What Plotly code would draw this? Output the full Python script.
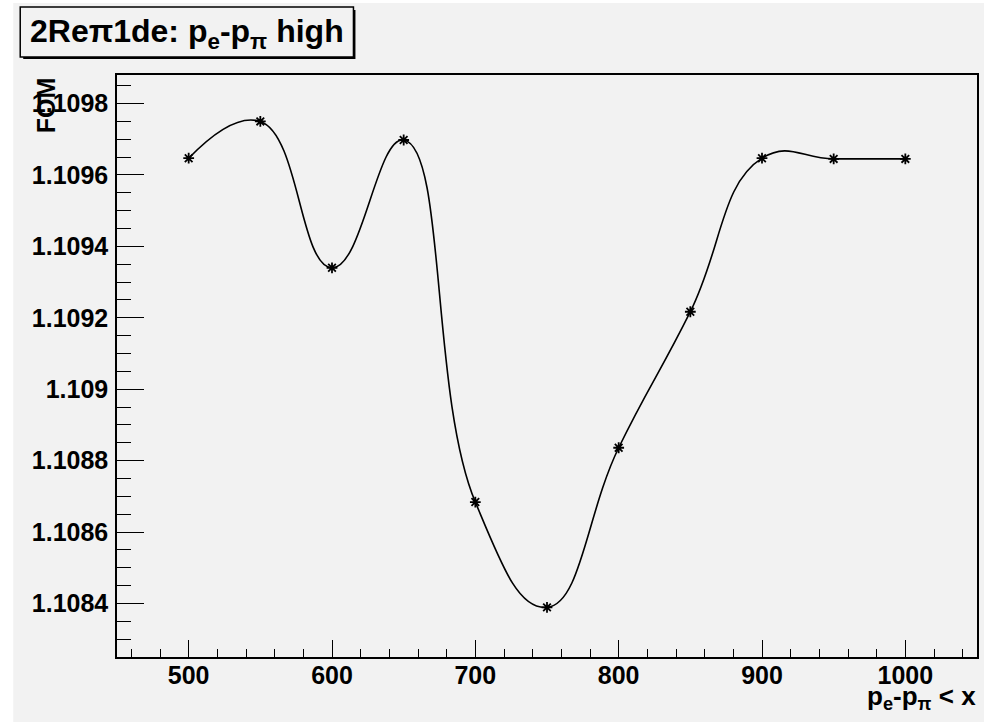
import plotly.graph_objects as go

# Figure of merit scan versus the upper cut on p_e - p_pi
cut_values = [500, 550, 600, 650, 700, 750, 800, 850, 900, 950, 1000]
fom_values = [1.109647, 1.109750, 1.109340, 1.109698, 1.108684, 1.108389,
              1.108836, 1.109217, 1.109647, 1.109645, 1.109645]

x_tick_vals = [500, 600, 700, 800, 900, 1000]
x_tick_text = ["500", "600", "700", "800", "900", "1000"]
y_tick_vals = [1.1084, 1.1086, 1.1088, 1.109, 1.1092, 1.1094, 1.1096, 1.1098]
y_tick_text = ["1.1084", "1.1086", "1.1088", "1.109", "1.1092", "1.1094", "1.1096", "1.1098"]

W, H = 984, 722
L, R, T, B = 117, 5, 75, 65
PW, PH = W - L - R, H - T - B

FONT = "Liberation Sans"
BG = "#f2f2f2"


def fx(p):
    return (p - L) / PW


def fy(p):
    return (H - B - p) / PH


fig = go.Figure()
fig.add_trace(go.Scatter(
    x=cut_values, y=fom_values,
    mode="lines+markers",
    line=dict(color="black", width=1.6, shape="spline", smoothing=1.3),
    marker=dict(symbol="asterisk-open", size=9, color="black",
                line=dict(color="black", width=1.8)),
    showlegend=False,
))

axis_common = dict(
    showline=True, linecolor="black", linewidth=1.5, mirror=True,
    showgrid=False, zeroline=False,
    ticks="inside", tickcolor="black", tickwidth=1.3,
    tickfont=dict(family=FONT, size=25, color="black", weight="bold"),
)

fig.update_xaxes(
    range=[450, 1050],
    tickmode="array", tickvals=x_tick_vals, ticktext=x_tick_text,
    ticklen=17, ticklabelstandoff=-5,
    minor=dict(ticks="inside", ticklen=8, dtick=20, tick0=0,
               tickcolor="black", tickwidth=1.3),
    **axis_common,
)
fig.update_yaxes(
    range=[1.10825, 1.10988],
    tickmode="array", tickvals=y_tick_vals, ticktext=y_tick_text,
    ticklen=27, ticklabelstandoff=2,
    minor=dict(ticks="inside", ticklen=14, dtick=0.00005, tick0=1.1,
               tickcolor="black", tickwidth=1.3),
    **axis_common,
)

shapes = [
    # canvas fill
    dict(type="rect", xref="paper", yref="paper", layer="below",
         x0=fx(13), x1=fx(W + 2), y0=fy(3), y1=fy(H + 2),
         fillcolor=BG, line=dict(width=0)),
    # title pave shadow
    dict(type="rect", xref="paper", yref="paper",
         x0=fx(23), x1=fx(356), y0=fy(59), y1=fy(10),
         fillcolor="black", line=dict(width=0)),
    # title pave
    dict(type="rect", xref="paper", yref="paper",
         x0=fx(20), x1=fx(354), y0=fy(57), y1=fy(7),
         fillcolor=BG, line=dict(color="black", width=1.5)),
]

annotations = [
    dict(text="2Re\u03c01de: p<sub>e</sub>-p<sub>\u03c0</sub> high",
         xref="paper", yref="paper", x=fx(187), y=fy(33),
         xanchor="center", yanchor="middle", showarrow=False,
         font=dict(family=FONT, size=32, color="black", weight="bold")),
    dict(text="FOM", textangle=-90,
         xref="paper", yref="paper", x=fx(46), y=fy(75),
         xanchor="center", yanchor="top", showarrow=False,
         font=dict(family=FONT, size=25, color="black", weight="bold")),
    dict(text="p<sub>e</sub>-p<sub>\u03c0</sub> < x",
         xref="paper", yref="paper", x=fx(980), y=fy(679),
         xanchor="right", yanchor="top", showarrow=False,
         font=dict(family=FONT, size=26, color="black", weight="bold")),
]

fig.update_layout(
    width=W, height=H,
    margin=dict(l=L, r=R, t=T, b=B, pad=0),
    paper_bgcolor="white", plot_bgcolor=BG,
    shapes=shapes, annotations=annotations,
)

fig.write_html("out.html")
